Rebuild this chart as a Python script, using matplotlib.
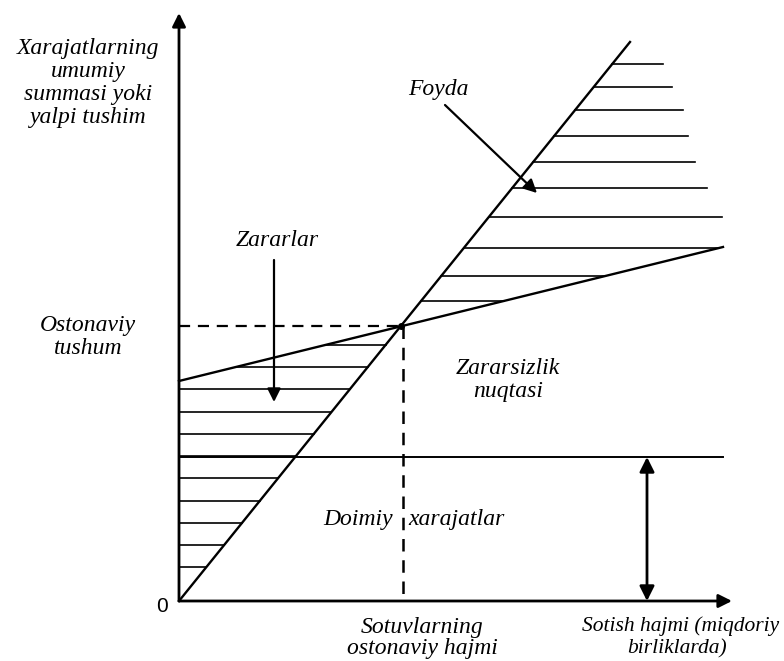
import matplotlib
matplotlib.use("Agg")
import matplotlib.pyplot as plt
import numpy as np

# ---- data (units: arbitrary volume / money units, origin at 0) ----
revenue_slope = 1.2395          # gross revenue per unit of volume
fixed_costs = 144               # fixed costs level
total_cost_start = 220          # total cost at zero volume
total_cost_end_x = 544          # end of drawn cost lines
total_cost_end_y = 354
revenue_end_x = 451             # end of revenue line
x_axis_end = 553
y_axis_end = 588

loss_hatch_levels = [256, 234, 212, 189, 167, 145, 123, 100, 78, 56, 34]
profit_hatch_levels = [537, 514, 491, 465, 439, 413, 384, 353, 325, 300]
profit_hatch_right = [484, 493, 504, 509, 516, 528, 543, None, None, None]

# ---- derived geometry ----
cost_slope = (total_cost_end_y - total_cost_start) / total_cost_end_x
be_x = total_cost_start / (revenue_slope - cost_slope)
be_y = revenue_slope * be_x

def rev_x(y):
    return y / revenue_slope

def cost_x(y):
    return (y - total_cost_start) / cost_slope

fig = plt.figure(figsize=(7.84, 6.61), dpi=100)
ax = fig.add_axes([0, 0, 1, 1])
ax.set_xlim(-179, 605)
ax.set_ylim(-60, 601)
ax.axis("off")

K = "black"
font = dict(family="Liberation Serif", style="italic", fontsize=17, color=K)
font_small = dict(family="Liberation Serif", style="italic", fontsize=15.5, color=K)

# axes with arrows
ax.annotate("", xy=(0, y_axis_end), xytext=(0, 0),
            arrowprops=dict(arrowstyle="-|>", color=K, lw=2, mutation_scale=20, shrinkA=0, shrinkB=0))
ax.annotate("", xy=(x_axis_end, 0), xytext=(0, 0),
            arrowprops=dict(arrowstyle="-|>", color=K, lw=2, mutation_scale=20, shrinkA=0, shrinkB=0))

# revenue line
ax.plot([0, revenue_end_x], [0, revenue_slope * revenue_end_x], color=K, lw=1.7)
# total cost line
ax.plot([0, total_cost_end_x], [total_cost_start, total_cost_end_y], color=K, lw=1.7)
# fixed cost line
ax.plot([0, total_cost_end_x], [fixed_costs, fixed_costs], color=K, lw=1.4)

# dashed break-even guides
ax.plot([0, be_x], [be_y, be_y], color=K, lw=1.6, ls=(0, (5, 3.5)))
ax.plot([be_x + 2, be_x + 2], [be_y, 0], color=K, lw=1.8, ls=(0, (5, 3.5)))
ax.plot([be_x], [be_y], "o", color=K, ms=4)

# loss hatch
for y in loss_hatch_levels:
    x0 = max(0.0, cost_x(y)) if y > total_cost_start else 0.0
    x1 = rev_x(y)
    ax.plot([x0, x1], [y, y], color=K, lw=1.2)

# profit hatch
for y, xr in zip(profit_hatch_levels, profit_hatch_right):
    x0 = rev_x(y)
    x1 = xr if xr is not None else min(cost_x(y), total_cost_end_x)
    ax.plot([x0, x1], [y, y], color=K, lw=1.2)

# double arrow (fixed costs)
ax.annotate("", xy=(468, fixed_costs), xytext=(468, 0),
            arrowprops=dict(arrowstyle="<|-|>", color=K, lw=2, mutation_scale=22, shrinkA=0, shrinkB=0))

# Zararlar arrow
ax.annotate("", xy=(95, 199), xytext=(95, 341),
            arrowprops=dict(arrowstyle="-|>", color=K, lw=1.6, mutation_scale=20, shrinkA=0, shrinkB=0))
# Foyda arrow
ax.annotate("", xy=(358, 408), xytext=(266, 496),
            arrowprops=dict(arrowstyle="-|>", color=K, lw=1.6, mutation_scale=20, shrinkA=0, shrinkB=0))

# texts
ax.text(-91, 518, "Xarajatlarning\numumiy\nsummasi yoki\nyalpi tushim",
        ha="center", va="center", multialignment="center", linespacing=1.12, **font)
ax.text(-91, 264, "Ostonaviy\ntushum", ha="center", va="center",
        multialignment="center", linespacing=1.12, **font)
ax.text(-17, -6, "0", ha="center", va="center", family="Liberation Sans", fontsize=15, color=K)
ax.text(98, 361, "Zararlar", ha="center", va="center", **font)
ax.text(259, 511, "Foyda", ha="center", va="center", **font)
ax.text(329, 221, "Zararsizlik\nnuqtasi", ha="center", va="center",
        multialignment="center", linespacing=1.12, **font)
ax.text(214, 81, "Doimiy", ha="right", va="center", **font)
ax.text(229, 81, "xarajatlar", ha="left", va="center", **font)
ax.text(243, -37, "Sotuvlarning\nostonaviy hajmi", ha="center", va="center",
        multialignment="center", linespacing=1.05, **font)
ax.text(600, -25, "Sotish hajmi (miqdoriy", ha="right", va="center", **font_small)
ax.text(498, -48, "birliklarda)", ha="center", va="center", **font_small)

fig.savefig("out.png", dpi=100)
